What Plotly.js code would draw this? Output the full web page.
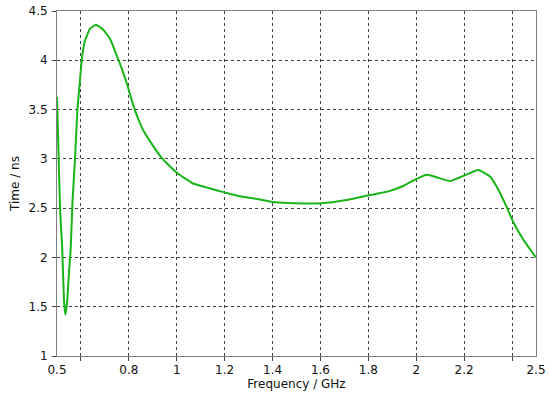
<!DOCTYPE html>
<html>
<head>
<meta charset="utf-8">
<script src="https://cdn.plot.ly/plotly-3.0.1.min.js"></script>
<style>html,body{margin:0;padding:0;background:#fff;}#chart{width:550px;height:405px;}</style>
</head>
<body>
<div id="chart"></div>
<script>
// Frequency (GHz)
const freq = [0.500, 0.503, 0.506, 0.5125, 0.517, 0.522, 0.529, 0.535, 0.543, 0.550, 0.557, 0.565, 0.575, 0.585, 0.596, 0.603, 0.610, 0.617, 0.638, 0.662, 0.693, 0.721, 0.749, 0.770, 0.791, 0.819, 0.840, 0.860, 0.888, 0.937, 1.000, 1.069, 1.139, 1.200, 1.264, 1.341, 1.410, 1.494, 1.605, 1.703, 1.800, 1.883, 1.950, 1.995, 2.044, 2.090, 2.141, 2.200, 2.259, 2.308, 2.340, 2.378, 2.405, 2.450, 2.500];
// Group delay / time (ns)
const timeNs = [3.63, 3.35, 3.09, 2.51, 2.30, 2.08, 1.57, 1.42, 1.57, 1.85, 2.08, 2.58, 2.99, 3.49, 3.80, 4.00, 4.12, 4.20, 4.32, 4.36, 4.31, 4.22, 4.05, 3.92, 3.77, 3.54, 3.40, 3.29, 3.18, 3.01, 2.86, 2.75, 2.70, 2.66, 2.62, 2.59, 2.56, 2.55, 2.55, 2.58, 2.63, 2.67, 2.73, 2.79, 2.84, 2.81, 2.775, 2.83, 2.886, 2.82, 2.70, 2.51, 2.36, 2.17, 2.00];
// Axis ticks
const xTickLabels = [0.5, 0.8, 1, 1.2, 1.4, 1.6, 1.8, 2, 2.2, 2.5];
const xGridVals = [0.6, 0.8, 1.0, 1.2, 1.4, 1.6, 1.8, 2.0, 2.2, 2.4];
const yTickVals = [1, 1.5, 2, 2.5, 3, 3.5, 4, 4.5];

const font = {family: 'DejaVu Sans, Verdana, sans-serif', size: 12, color: '#111'};

const traces = [
  {x: freq, y: timeNs, type: 'scatter', mode: 'lines', line: {color: '#18b418', width: 2, shape: 'spline', smoothing: 0.4}, hoverinfo: 'skip', showlegend: false},
  {x: [0.5, 2.5], y: [1, 1], xaxis: 'x2', type: 'scatter', mode: 'lines', line: {width: 0}, opacity: 0, hoverinfo: 'skip', showlegend: false}
];

const layout = {
  width: 550, height: 405,
  margin: {l: 57, r: 14, t: 11, b: 49},
  paper_bgcolor: '#fff', plot_bgcolor: '#fff',
  font: font,
  showlegend: false,
  xaxis: {
    range: [0.5, 2.5], tickvals: xTickLabels, ticktext: xTickLabels.map(String),
    showgrid: false, zeroline: false, ticks: '', ticklabelstandoff: 3,
    showline: true, linecolor: '#808080', linewidth: 1, mirror: true,
    title: {text: 'Frequency / GHz', font: font, standoff: 3},
    tickfont: font
  },
  xaxis2: {
    range: [0.5, 2.5], overlaying: 'x', tickvals: xGridVals, showticklabels: false,
    showgrid: true, gridcolor: '#404040', griddash: 'dot', gridwidth: 1,
    ticks: 'outside', ticklen: 4, tickcolor: '#404040', side: 'bottom',
    zeroline: false, showline: false
  },
  yaxis: {
    range: [1, 4.5], tickvals: yTickVals, ticktext: yTickVals.map(String),
    showgrid: true, gridcolor: '#404040', griddash: 'dot', gridwidth: 1,
    ticks: 'outside', ticklen: 4, tickcolor: '#404040', ticklabelstandoff: 2,
    zeroline: false, showline: true, linecolor: '#808080', linewidth: 1, mirror: true,
    title: {text: 'Time / ns', font: font, standoff: 6},
    tickfont: font
  }
};

Plotly.newPlot('chart', traces, layout, {displayModeBar: false, staticPlot: true});
</script>
</body>
</html>
